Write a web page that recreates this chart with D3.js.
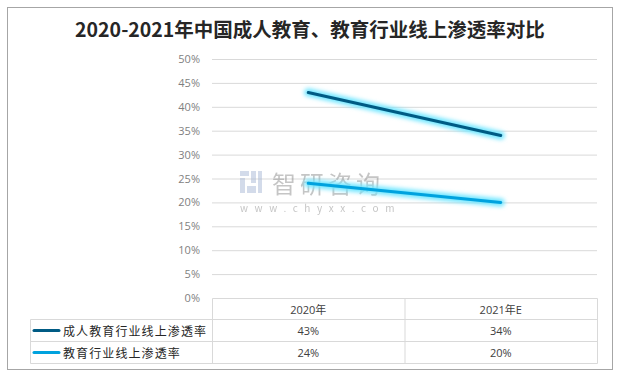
<!DOCTYPE html>
<html>
<head>
<meta charset="utf-8">
<script src="https://cdn.jsdelivr.net/npm/d3@7"></script>
<style>
  body { margin: 0; background: #fff; }
  svg text { font-family: "Noto Sans CJK SC", "Noto Sans", sans-serif; }
</style>
</head>
<body>
<svg id="chart" width="621" height="377"></svg>
<script>
const title = '2020-2021年中国成人教育、教育行业线上渗透率对比';
const categories = ['2020年', '2021年E'];
const seriesNames = ['成人教育行业线上渗透率', '教育行业线上渗透率'];
const adultValues = [43, 34];
const eduValues = [24, 20];
const yTicks = [0, 5, 10, 15, 20, 25, 30, 35, 40, 45, 50];
const colors = ['#005b84', '#00a2de'];

const svg = d3.select('#chart');
const plotLeft = 212, plotRight = 597, plotTop = 59, plotBottom = 298;

// outer frame
svg.append('rect')
  .attr('x', 7.5).attr('y', 7.5)
  .attr('width', 605).attr('height', 362)
  .attr('fill', '#fff')
  .attr('stroke', '#a6a6a6');

svg.append('text')
  .attr('x', 310).attr('y', 37)
  .attr('text-anchor', 'middle')
  .attr('font-size', 19.5)
  .attr('font-weight', 'bold')
  .attr('fill', '#262626')
  .text(title);

const x = d3.scaleBand().domain(categories).range([plotLeft, plotRight]);
const y = d3.scaleLinear().domain([0, 50]).range([plotBottom, plotTop]);

// gridlines
svg.append('g')
  .selectAll('line')
  .data(yTicks.filter(d => d > 0))
  .join('line')
  .attr('x1', plotLeft).attr('x2', plotRight)
  .attr('y1', d => y(d) + 0.5).attr('y2', d => y(d) + 0.5)
  .attr('stroke', '#d9d9d9');

const yAxis = svg.append('g')
  .attr('transform', `translate(${plotLeft - 9},0)`)
  .call(d3.axisLeft(y).tickValues(yTicks).tickFormat(d => d + '%').tickSize(0));
yAxis.select('.domain').remove();
yAxis.selectAll('text')
  .attr('font-size', 11)
  .attr('fill', '#7f7f7f')
  .style('font-family', '"Open Sans", "Noto Sans", sans-serif');

// watermark
const wm = svg.append('g').attr('opacity', 0.5);
wm.append('rect').attr('x', 240).attr('y', 171).attr('width', 9).attr('height', 5).attr('fill', '#a9b9d6');
wm.append('rect').attr('x', 240).attr('y', 178).attr('width', 5).attr('height', 15).attr('fill', '#a9b9d6');
wm.append('rect').attr('x', 251).attr('y', 171).attr('width', 5).attr('height', 12).attr('fill', '#a9b9d6');
wm.append('rect').attr('x', 247).attr('y', 186).attr('width', 9).attr('height', 7).attr('fill', '#a9b9d6');
wm.append('rect').attr('x', 258).attr('y', 171).attr('width', 4).attr('height', 22).attr('fill', '#a9b9d6');
wm.append('text')
  .attr('x', 272).attr('y', 193)
  .attr('font-size', 24)
  .attr('fill', '#8c8c8c')
  .attr('letter-spacing', 4)
  .text('智研咨询');
wm.append('text')
  .attr('x', 240).attr('y', 212)
  .attr('font-size', 10)
  .attr('fill', '#8c8c8c')
  .attr('letter-spacing', 6.6)
  .text('www.chyxx.com');

// glow filter
const defs = svg.append('defs');
const f = defs.append('filter').attr('id', 'glow')
  .attr('x', '-20%').attr('y', '-50%').attr('width', '140%').attr('height', '200%');
f.append('feGaussianBlur').attr('stdDeviation', 2.2);

const line = d3.line()
  .x((d, i) => x(categories[i]) + x.bandwidth() / 2)
  .y(d => y(d));

[adultValues, eduValues].forEach((vals, k) => {
  svg.append('path')
    .attr('d', line(vals))
    .attr('fill', 'none')
    .attr('stroke', '#6fe6ff')
    .attr('stroke-width', 8)
    .attr('stroke-linecap', 'round')
    .attr('filter', 'url(#glow)');
  svg.append('path')
    .attr('d', line(vals))
    .attr('fill', 'none')
    .attr('stroke', colors[k])
    .attr('stroke-width', 3)
    .attr('stroke-linecap', 'round');
});

// data table
const tLeft = 30.5, rows = [298.5, 319.5, 341.5, 363.5];
const grid = svg.append('g').attr('stroke', '#d9d9d9').attr('fill', 'none');
grid.append('line').attr('x1', plotLeft + 0.5).attr('x2', plotRight + 0.5).attr('y1', rows[0]).attr('y2', rows[0]);
rows.slice(1).forEach(r => grid.append('line').attr('x1', tLeft).attr('x2', plotRight + 0.5).attr('y1', r).attr('y2', r));
grid.append('line').attr('x1', tLeft).attr('x2', tLeft).attr('y1', rows[1]).attr('y2', rows[3]);
[plotLeft + 0.5, x(categories[1]) + 0.5, plotRight + 0.5].forEach(cx =>
  grid.append('line').attr('x1', cx).attr('x2', cx).attr('y1', rows[0]).attr('y2', rows[3]));

const cellText = (tx, ty, s, anchor) => svg.append('text')
  .attr('x', tx).attr('y', ty)
  .attr('text-anchor', anchor || 'middle')
  .attr('dominant-baseline', 'central')
  .attr('font-size', 11)
  .attr('fill', '#404040')
  .style('font-family', '"Open Sans", "Noto Sans CJK SC", sans-serif')
  .text(s);

categories.forEach(c => cellText(x(c) + x.bandwidth() / 2, (rows[0] + rows[1]) / 2, c));
[adultValues, eduValues].forEach((vals, k) => {
  const cy = (rows[k + 1] + rows[k + 2]) / 2;
  vals.forEach((v, i) => cellText(x(categories[i]) + x.bandwidth() / 2, cy, v + '%'));
  svg.append('line')
    .attr('x1', 34).attr('x2', 59)
    .attr('y1', cy).attr('y2', cy)
    .attr('stroke', colors[k])
    .attr('stroke-width', 3)
    .attr('stroke-linecap', 'round');
  svg.append('text')
    .attr('x', 63).attr('y', cy)
    .attr('dominant-baseline', 'central')
    .attr('font-size', 12)
    .attr('letter-spacing', 1.1)
    .attr('fill', '#262626')
    .text(seriesNames[k]);
});
</script>
</body>
</html>
